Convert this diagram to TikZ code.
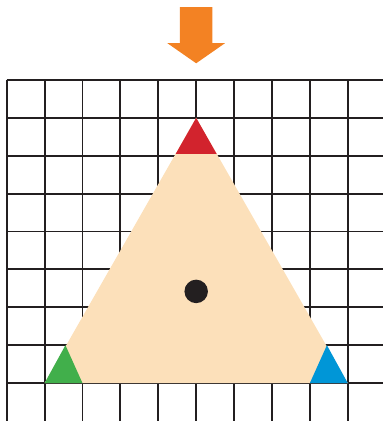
\documentclass[tikz,border=0pt]{standalone}
\usepackage{tikz}
\usetikzlibrary{positioning, calc}
\definecolor{gridink}{RGB}{35,31,32}
\definecolor{peach}{RGB}{252,224,186}
\definecolor{topred}{RGB}{210,35,45}
\definecolor{leftgreen}{RGB}{65,175,75}
\definecolor{rightblue}{RGB}{0,150,215}
\definecolor{pushorange}{RGB}{243,130,35}
\tikzset{
  gridline/.style={draw=gridink, line width=1.4pt},
  bigtri/.style={fill=peach},
  cornertri/.style={draw=none},
  centerdot/.style={circle, fill=gridink, minimum size=0.62cm, inner sep=0pt},
  pusharrow/.style={fill=pushorange}
}
\begin{document}
\begin{tikzpicture}
  \useasboundingbox (-0.177,0) rectangle (9.929,11.11);
  % grid, cut at the right and bottom edges
  \begin{scope}
    \clip (-0.177,0) rectangle (9.929,11.11);
    \foreach \x in {0,...,9} \draw[gridline] (\x,0) -- (\x,9);
    \foreach \y in {1,...,9} \draw[gridline] (0,\y) -- (10,\y);
  \end{scope}
  % triangle and corners
  \coordinate (tl) at (1,1);
  \coordinate (tr) at (9,1);
  \coordinate (tt) at (5,8);
  \fill[bigtri] (tl) -- (tr) -- (tt) -- cycle;
  \fill[cornertri, topred] (tt) -- (4.46,7.05) -- (5.54,7.05) -- cycle;
  \fill[cornertri, leftgreen] (tl) -- (2,1) -- (1.55,2) -- cycle;
  \fill[cornertri, rightblue] (tr) -- (8,1) -- (8.45,2) -- cycle;
  \node[centerdot] (mid) at (5,3.42) {};
  % arrow on top
  \fill[pusharrow] (4.57,10.92) -- (5.43,10.92) -- (5.43,9.97) -- (5.76,9.97)
    -- (5,9.44) -- (4.24,9.97) -- (4.57,9.97) -- cycle;
\end{tikzpicture}
\end{document}
